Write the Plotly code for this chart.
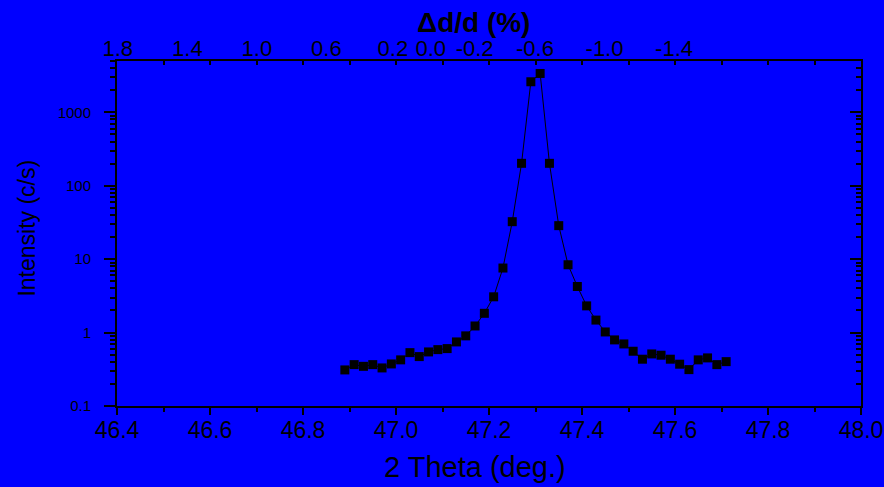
import plotly.graph_objects as go

# ---- data ----
two_theta = [46.89, 46.91, 46.93, 46.95, 46.97, 46.99, 47.01, 47.03, 47.05, 47.07,
             47.09, 47.11, 47.13, 47.15, 47.17, 47.19, 47.21, 47.23, 47.25, 47.27,
             47.29, 47.31, 47.33, 47.35, 47.37, 47.39, 47.41, 47.43, 47.45, 47.47,
             47.49, 47.51, 47.53, 47.55, 47.57, 47.59, 47.61, 47.63, 47.65, 47.67,
             47.69, 47.71]
intensity = [0.31, 0.366, 0.347, 0.366, 0.33, 0.374, 0.425, 0.533, 0.471, 0.545,
             0.586, 0.605, 0.746, 0.902, 1.23, 1.83, 3.07, 7.57, 32.4, 202,
             2607, 3383, 202, 28.6, 8.39, 4.24, 2.31, 1.48, 1.02, 0.795,
             0.70, 0.557, 0.434, 0.512, 0.492, 0.434, 0.371, 0.313, 0.425, 0.452,
             0.366, 0.402]

x_range = [46.4, 48.0]
y_range_log = [-1, 3.699]          # 0.1 .. ~5000

y_major = [0.1, 1, 10, 100, 1000]
y_major_text = ["0.1", "1", "10", "100", "1000"]
y_minor = [0.2, 0.3, 0.4, 0.5, 0.6, 0.7, 0.8, 0.9,
           2, 3, 4, 5, 6, 7, 8, 9,
           20, 30, 40, 50, 60, 70, 80, 90,
           200, 300, 400, 500, 600, 700, 800, 900,
           2000, 3000, 4000, 5000]

top_vals = [1.8, 1.4, 1.0, 0.6, 0.2, 0.0, -0.2, -0.6, -1.0, -1.4]
top_text = ["1.8", "1.4", "1.0", "0.6", "0.2", "0.0", "-0.2", "-0.6", "-1.0", "-1.4"]

# linear conversion 2theta -> delta d / d (%)
T0 = 47.0746
S = 0.3738


def dd(t):
    return (T0 - t) / S


# the crowded labels around zero are spread apart a little (as in the original)
NB = "\u00a0"
top_text_display = []
for v, s in zip(top_vals, top_text):
    if v == 0.2:
        s = s + NB
    elif v == -0.2:
        s = NB * 3 + s
    top_text_display.append(s)

FONT = "Liberation Sans, Arial, sans-serif"
BLUE = "#0000FF"

fig = go.Figure()
fig.add_trace(go.Scatter(
    x=two_theta, y=intensity, mode="lines+markers",
    line=dict(color="black", width=1),
    marker=dict(symbol="square", size=9, color="black", line=dict(width=0)),
    showlegend=False,
))
# invisible companions so that the secondary (top / right) axes are drawn
fig.add_trace(go.Scatter(
    x=two_theta, y=intensity, xaxis="x2", yaxis="y2", mode="markers",
    marker=dict(opacity=0), hoverinfo="skip", showlegend=False,
))
fig.add_trace(go.Scatter(
    x=[dd(t) for t in two_theta], y=intensity, xaxis="x3", yaxis="y",
    mode="markers", marker=dict(opacity=0), hoverinfo="skip",
    showlegend=False,
))

axis_common = dict(showgrid=False, zeroline=False, showline=True,
                   linecolor="black", linewidth=2, tickcolor="black",
                   automargin=False)

fig.update_layout(
    width=884, height=487, autosize=False,
    margin=dict(l=117, r=23, t=61, b=81, autoexpand=False),
    paper_bgcolor=BLUE, plot_bgcolor=BLUE,
    font=dict(family=FONT, color="black"),
    hovermode=False,
    xaxis=dict(**axis_common, range=x_range, tick0=46.4, dtick=0.2,
               tickformat=".1f", ticks="outside", ticklen=7, tickwidth=2,
               tickangle=0,
               tickfont=dict(size=23, family=FONT, color="black"),
               ticklabelstandoff=-5,
               minor=dict(dtick=0.1, tick0=46.4, ticks="outside", ticklen=4,
                          tickwidth=2, tickcolor="black"),
               anchor="y"),
    xaxis2=dict(**axis_common, range=x_range, overlaying="x", side="top",
                anchor="y2", tick0=46.4, dtick=0.1, ticks="inside", ticklen=4,
                tickwidth=2, showticklabels=False),
    xaxis3=dict(showgrid=False, zeroline=False, showline=False,
                automargin=False,
                range=[dd(x_range[0]), dd(x_range[1])], overlaying="x",
                side="top", anchor="y", tickmode="array", tickvals=top_vals,
                ticktext=top_text_display, ticks="", tickangle=0,
                tickfont=dict(size=22, family=FONT, color="black")),
    yaxis=dict(**axis_common, type="log", range=y_range_log,
               tickmode="array", tickvals=y_major, ticktext=y_major_text,
               ticks="outside", ticklen=11, tickwidth=2,
               tickfont=dict(size=15, family=FONT, color="black"),
               ticklabelstandoff=10,
               minor=dict(tickmode="array", tickvals=y_minor, ticks="outside",
                          ticklen=5, tickwidth=1.5, tickcolor="black"),
               anchor="x"),
    yaxis2=dict(**axis_common, type="log", range=y_range_log,
                overlaying="y", side="right", anchor="x2",
                tickmode="array", tickvals=y_major, ticks="inside",
                ticklen=11, tickwidth=2, showticklabels=False,
                minor=dict(tickmode="array", tickvals=y_minor, ticks="inside",
                           ticklen=5, tickwidth=1.5, tickcolor="black")),
    annotations=[
        dict(text="2 Theta (deg.)", xref="paper", yref="paper",
             x=0.481, y=-0.177, xanchor="center", yanchor="middle",
             showarrow=False, font=dict(size=29, family=FONT, color="black")),
        dict(text="<b>Δd/d (%)</b>", xref="paper", yref="paper",
             x=0.479, y=1.113, xanchor="center", yanchor="middle",
             showarrow=False, font=dict(size=28, family=FONT, color="black")),
        dict(text="Intensity (c/s)", xref="paper", yref="paper",
             x=-0.121, y=0.517, xanchor="center", yanchor="middle",
             textangle=-90, showarrow=False,
             font=dict(size=23, family=FONT, color="black")),
    ],
)

fig.write_html(
    "out.html",
    config={"displayModeBar": False, "responsive": False},
    post_script="document.body.style.margin='0';"
                "document.body.style.overflow='hidden';",
)
